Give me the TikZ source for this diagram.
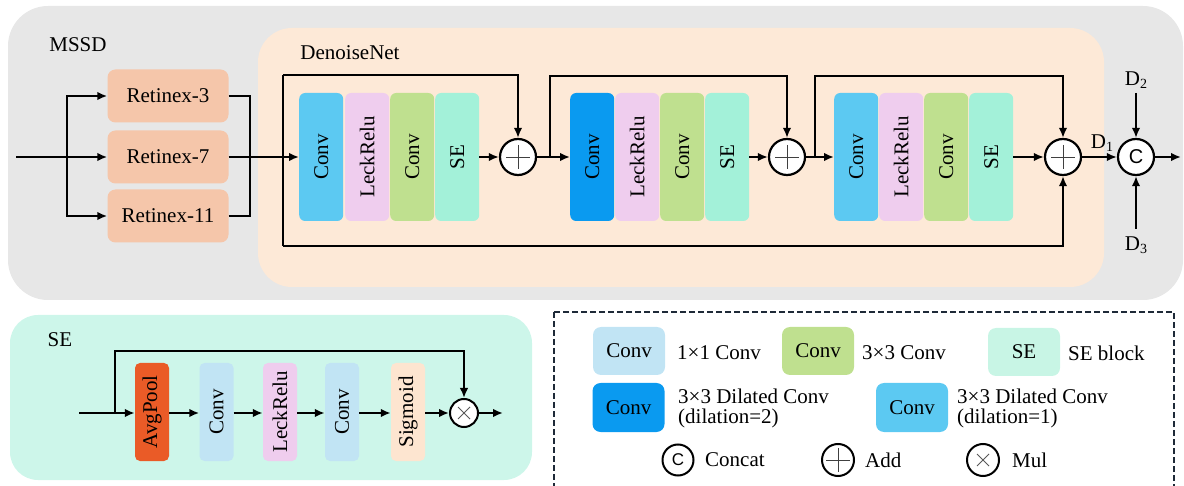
\documentclass[tikz,border=0pt]{standalone}
\usepackage{fontspec}
\setmainfont{Liberation Serif}
\newfontfamily\opfont{Liberation Sans}
\usetikzlibrary{arrows.meta,calc}

\definecolor{cgray}{HTML}{E7E7E7}
\definecolor{cpeach}{HTML}{FDE9D7}
\definecolor{cret}{HTML}{F5C6AA}
\definecolor{cconv}{HTML}{5CC9F2}
\definecolor{cdil}{HTML}{0A9AF0}
\definecolor{cleck}{HTML}{EFCDEE}
\definecolor{cgreen}{HTML}{BFE08F}
\definecolor{cse}{HTML}{A3F1D9}
\definecolor{cpanel}{HTML}{CDF6EA}
\definecolor{cavg}{HTML}{EA5B27}
\definecolor{cpw}{HTML}{C1E4F4}
\definecolor{csig}{HTML}{FDE5D0}
\definecolor{clse}{HTML}{C8F5E5}
\definecolor{cdash}{HTML}{1E2A38}

\tikzset{
  wire/.style={line width=2pt, draw=black},
  arr/.style={wire, -{Latex[length=10pt,width=8.5pt]}},
  blk/.style={rounded corners=6pt, minimum width=44pt, minimum height=128pt,
              inner sep=0pt, anchor=west},
  seblk/.style={rounded corners=5pt, minimum width=34pt, minimum height=98pt,
              inner sep=0pt},
  retbox/.style={fill=cret, rounded corners=8pt, minimum width=121pt,
              minimum height=53pt, inner sep=0pt},
  lgbox/.style={rounded corners=8pt, minimum width=72pt, minimum height=48pt,
              inner sep=0pt},
  lgtext/.style={anchor=west, inner sep=0pt, align=left,
              font=\fontsize{21}{20}\selectfont},
  addop/.style={circle, draw=black, fill=white, line width=2.2pt,
              minimum size=36pt, inner sep=0pt,
              path picture={\draw[line width=0.9pt, black!75]
                ($(path picture bounding box.center)+(-12,0)$) -- ($(path picture bounding box.center)+(12,0)$)
                ($(path picture bounding box.center)+(0,-12)$) -- ($(path picture bounding box.center)+(0,12)$);}},
  lgadd/.style={addop, line width=2pt, minimum size=32pt},
  mulop/.style={circle, draw=black, fill=white, line width=2pt,
              minimum size=#1, inner sep=0pt,
              path picture={\draw[line width=0.8pt, black!65]
                ($(path picture bounding box.center)+(-6,-6)$) -- ($(path picture bounding box.center)+(6,6)$)
                ($(path picture bounding box.center)+(-6,6)$) -- ($(path picture bounding box.center)+(6,-6)$);}},
  catop/.style={circle, draw=black, fill=white, line width=2.2pt,
              minimum size=#1, inner sep=0pt, font=\opfont\fontsize{20}{20}\selectfont},
}

\begin{document}
\begin{tikzpicture}[x=1pt, y=-1pt, font=\fontsize{21}{23}\selectfont]
\useasboundingbox (0,0) rectangle (1184,486);

% ---------- panels ----------
\fill[cgray, rounded corners=40pt] (8,6) rectangle (1183,300);
\fill[cpeach, rounded corners=34pt] (258,28) rectangle (1104,287);
\fill[cpanel, rounded corners=28pt] (10,315) rectangle (532,480);
\draw[cdash, line width=1.8pt, dash pattern=on 6pt off 3pt] (554,312) rectangle (1174,496);

\node (mssd) at (78,45) {MSSD};
\node (dnet) at (350,53) {DenoiseNet};
\node (selbl) at (60,340) {SE};

% ---------- multi-scale Retinex ----------
\node[retbox] (r3)  at (168,96)  {Retinex-3};
\node[retbox] (r7)  at (168,157) {Retinex-7};
\node[retbox] (r11) at (168,216) {Retinex-11};

\coordinate (in0) at (16,157);
\coordinate (sp)  at (67,157);
\coordinate (mg)  at (250,157);
\draw[wire] (in0) -- (sp);
\draw[arr] (sp) |- (r3.west);
\draw[arr] (sp) -- (r7.west);
\draw[arr] (sp) |- (r11.west);
\draw[wire] (r3.east) -| (mg);
\draw[wire] (r11.east) -| (mg);
\draw[wire] (r7.east) -- (mg);

% ---------- DenoiseNet blocks ----------
\node[blk, fill=cconv]  (c1) at (299,157) {\rotatebox{90}{Conv}};
\node[blk, fill=cleck]  (l1) at (345,157) {\rotatebox{90}{LeckRelu}};
\node[blk, fill=cgreen] (g1) at (390,157) {\rotatebox{90}{Conv}};
\node[blk, fill=cse]    (e1) at (435,157) {\rotatebox{90}{SE}};

\node[blk, fill=cdil]   (c2) at (570,157) {\rotatebox{90}{Conv}};
\node[blk, fill=cleck]  (l2) at (615,157) {\rotatebox{90}{LeckRelu}};
\node[blk, fill=cgreen] (g2) at (660,157) {\rotatebox{90}{Conv}};
\node[blk, fill=cse]    (e2) at (705,157) {\rotatebox{90}{SE}};

\node[blk, fill=cconv]  (c3) at (834,157) {\rotatebox{90}{Conv}};
\node[blk, fill=cleck]  (l3) at (879,157) {\rotatebox{90}{LeckRelu}};
\node[blk, fill=cgreen] (g3) at (924,157) {\rotatebox{90}{Conv}};
\node[blk, fill=cse]    (e3) at (969,157) {\rotatebox{90}{SE}};

\node[addop] (a1) at (518,157) {};
\node[addop] (a2) at (787,157) {};
\node[addop] (a3) at (1063,157) {};
\node[catop=36pt] (cc) at (1136,157) {C};

\draw[arr] (mg) -- (c1.west);
\draw[arr] (e1.east) -- (a1.west);
\draw[arr] (a1.east) -- (c2.west);
\draw[arr] (e2.east) -- (a2.west);
\draw[arr] (a2.east) -- (c3.west);
\draw[arr] (e3.east) -- (a3.west);
\draw[arr] (a3.east) -- (cc.west);

% outer residual path
\coordinate (byT) at (283,75);
\coordinate (byB) at (283,246);
\draw[wire] (byT) -- (byB);
\draw[arr] (byT) -| (a1.north);
\draw[arr] (byB) -| (a3.south);

% inner residual paths
\coordinate (s2)  at (550,157);
\coordinate (s2t) at (550,76);
\draw[arr] (s2) -- (s2t) -| (a2.north);
\coordinate (s3)  at (815,157);
\coordinate (s3t) at (815,76);
\draw[arr] (s3) -- (s3t) -| (a3.north);

% concat inputs and output
\node (d1) at (1102,143) {D\raisebox{-0.35ex}{\fontsize{14}{14}\selectfont 1}};
\node (d2) at (1136,80)  {D\raisebox{-0.35ex}{\fontsize{14}{14}\selectfont 2}};
\node (d3) at (1136,245) {D\raisebox{-0.35ex}{\fontsize{14}{14}\selectfont 3}};
\coordinate (d2e) at (1136,93);
\coordinate (d3e) at (1136,229);
\coordinate (out) at (1181,157);
\draw[arr] (d2e) -- (cc.north);
\draw[arr] (d3e) -- (cc.south);
\draw[arr] (cc.east) -- (out);

% ---------- SE block ----------
\node[seblk, fill=cavg]  (avg) at (152,412) {\rotatebox{90}{AvgPool}};
\node[seblk, fill=cpw]   (sc1) at (216.5,412) {\rotatebox{90}{Conv}};
\node[seblk, fill=cleck] (slr) at (280,412) {\rotatebox{90}{LeckRelu}};
\node[seblk, fill=cpw]   (sc2) at (342,412) {\rotatebox{90}{Conv}};
\node[seblk, fill=csig]  (sig) at (408,412) {\rotatebox{90}{Sigmoid}};
\node[mulop=28pt] (mul) at (464,413) {};

\coordinate (sin)  at (79,413);
\coordinate (sbr)  at (115,413);
\coordinate (sbrt) at (115,351);
\coordinate (sout) at (503,413);
\draw[wire] (sin) -- (sbr);
\draw[arr] (sbr) -- (avg.west |- sbr);
\draw[arr] (sbr) -- (sbrt) -| (mul.north);
\draw[arr] (avg.east |- sbr) -- (sc1.west |- sbr);
\draw[arr] (sc1.east |- sbr) -- (slr.west |- sbr);
\draw[arr] (slr.east |- sbr) -- (sc2.west |- sbr);
\draw[arr] (sc2.east |- sbr) -- (sig.west |- sbr);
\draw[arr] (sig.east |- sbr) -- (mul.west);
\draw[arr] (mul.east) -- (sout);

% ---------- legend ----------
\node[lgbox, fill=cpw]    (k1) at (629,351) {Conv};
\node[lgtext] (k1t) at (677,353) {1×1 Conv};
\node[lgbox, fill=cgreen] (k2) at (818,351) {Conv};
\node[lgtext] (k2t) at (862,353) {3×3 Conv};
\node[lgbox, fill=clse]   (k3) at (1024,352) {SE};
\node[lgtext] (k3t) at (1068,353) {SE block};

\node[lgbox, fill=cdil, minimum height=49pt]  (k4) at (628.5,407.5) {Conv};
\node[lgtext] (k4t) at (678,408) {3×3 Dilated Conv\\(dilation=2)};
\node[lgbox, fill=cconv, minimum height=49pt] (k5) at (912,407.5) {Conv};
\node[lgtext] (k5t) at (957,408) {3×3 Dilated Conv\\(dilation=1)};

\node[catop=31pt, line width=2pt, font=\opfont\fontsize{17}{17}\selectfont] (k6) at (678,460) {C};
\node[lgtext] (k6t) at (705,460) {Concat};
\node[lgadd] (k7) at (838,460) {};
\node[lgtext] (k7t) at (865,460) {Add};
\node[mulop=32pt] (k8) at (983,460) {};
\node[lgtext] (k8t) at (1012,460) {Mul};
\end{tikzpicture}
\end{document}
